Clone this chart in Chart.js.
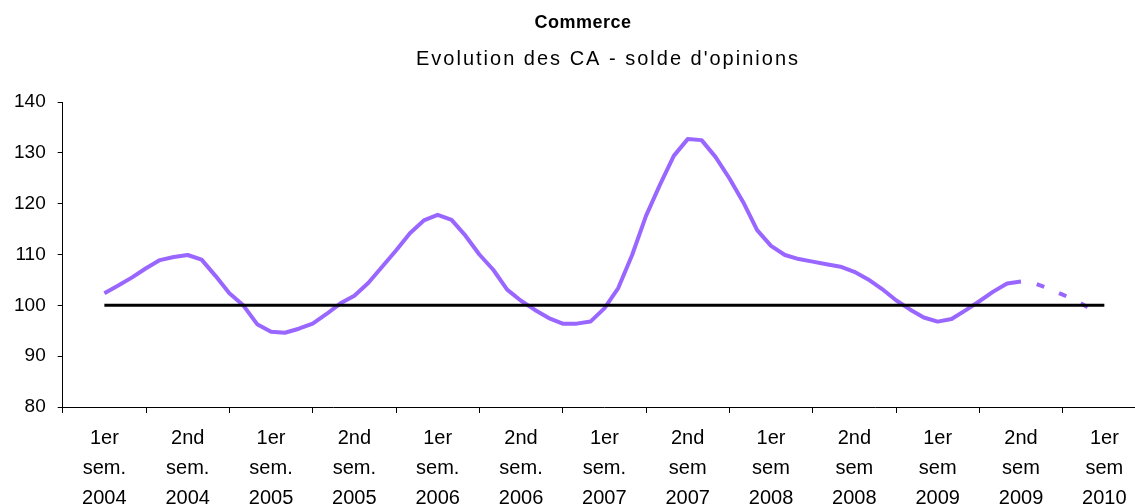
<!DOCTYPE html>
<html>
<head>
<meta charset="utf-8">
<script src="https://cdn.jsdelivr.net/npm/chart.js@4.4.1/dist/chart.umd.min.js"></script>
<style>
  html, body { margin: 0; padding: 0; background: #fff; overflow: hidden; }
  #wrap { width: 1160px; height: 531px; }
</style>
</head>
<body>
<div id="wrap"><canvas id="chart" width="1160" height="531"></canvas></div>
<script>
// semester labels (category axis)
const semesters = [
  ['1er', 'sem.', '2004'], ['2nd', 'sem.', '2004'],
  ['1er', 'sem.', '2005'], ['2nd', 'sem.', '2005'],
  ['1er', 'sem.', '2006'], ['2nd', 'sem.', '2006'],
  ['1er', 'sem.', '2007'], ['2nd', 'sem', '2007'],
  ['1er', 'sem', '2008'], ['2nd', 'sem', '2008'],
  ['1er', 'sem', '2009'], ['2nd', 'sem', '2009'],
  ['1er', 'sem', '2010']
];

// base 100 line, one value per semester
const reference = [100, 100, 100, 100, 100, 100, 100, 100, 100, 100, 100, 100, 100];

// monthly CA balance, month 0 = centre of 1er sem. 2004
const caMonthly = [
  102.4, 103.9, 105.5, 107.3, 108.9, 109.5, 109.9, 109.0, 105.8, 102.4,
  100.0, 96.3, 94.8, 94.6, 95.4, 96.4, 98.3, 100.4, 101.9, 104.4,
  107.6, 110.8, 114.2, 116.7, 117.8, 116.8, 113.7, 110.0, 107.0, 103.1,
  100.9, 99.1, 97.5, 96.4, 96.4, 96.8, 99.4, 103.4, 109.9, 117.6,
  123.7, 129.4, 132.7, 132.5, 129.2, 125.0, 120.3, 114.8, 111.7, 109.9,
  109.1, 108.6, 108.1, 107.6, 106.6, 105.1, 103.2, 101.0, 99.2, 97.6,
  96.8, 97.3, 99.0, 100.8, 102.7, 104.3, 104.7
];

// forecast part (dashed), starting at the last observed month
const caForecast = [104.7, 104.3, 103.3, 102.1, 100.9, 99.3];
const forecastStart = 66;

const yTicks = [80, 90, 100, 110, 120, 130, 140];

const titleText = 'Commerce';
const subtitleText = "Evolution des CA - solde d'opinions";

const FONT = 'Liberation Sans, Arial, sans-serif';
const PURPLE = '#9966ff';

const solidPts = caMonthly.map((v, i) => ({ x: i, y: v }));
const dashPts = caForecast.map((v, i) => ({ x: forecastStart + i, y: v }));

// title + subtitle drawn with letter spacing (not available in the title plugin)
const headerPlugin = {
  id: 'header',
  afterDraw(chart) {
    const ctx = chart.ctx;
    ctx.save();
    ctx.fillStyle = '#000';
    ctx.textAlign = 'center';
    ctx.textBaseline = 'middle';
    ctx.font = 'bold 18px ' + FONT;
    ctx.letterSpacing = '0.5px';
    ctx.fillText(titleText, 583, 23);
    ctx.font = '20px ' + FONT;
    ctx.letterSpacing = '2px';
    ctx.fillText(subtitleText, 608, 59);
    ctx.restore();
  }
};

new Chart(document.getElementById('chart'), {
  type: 'line',
  data: {
    labels: semesters,
    datasets: [
      {
        label: 'CA',
        data: solidPts,
        xAxisID: 'xm',
        borderColor: PURPLE,
        borderWidth: 4,
        pointRadius: 0,
        tension: 0,
        borderJoinStyle: 'round',
        order: 2
      },
      {
        label: 'CA prévision',
        data: dashPts,
        xAxisID: 'xm',
        borderColor: PURPLE,
        borderWidth: 4,
        borderDash: [8, 16],
        borderDashOffset: 8,
        pointRadius: 0,
        tension: 0,
        order: 2
      },
      {
        label: 'Référence',
        data: reference,
        xAxisID: 'x',
        borderColor: '#000',
        borderWidth: 3,
        pointRadius: 0,
        tension: 0,
        order: 1
      }
    ]
  },
  plugins: [headerPlugin],
  options: {
    responsive: false,
    animation: false,
    layout: { padding: { left: 2, right: 14, top: 102, bottom: 8 } },
    plugins: {
      legend: { display: false },
      tooltip: { enabled: false },
      title: { display: false }
    },
    scales: {
      x: {
        type: 'category',
        offset: true,
        grid: { offset: true, drawOnChartArea: false, drawTicks: true, tickLength: 6, color: '#000' },
        border: { display: true, color: '#000', width: 1 },
        ticks: {
          color: '#000',
          maxRotation: 0,
          autoSkip: false,
          padding: 10,
          font: { family: FONT, size: 20, lineHeight: 1.5 }
        }
      },
      xm: {
        type: 'linear',
        display: false,
        min: -3,
        max: 75
      },
      y: {
        min: 80,
        max: 140,
        afterBuildTicks: (s) => { s.ticks = yTicks.map(v => ({ value: v })); },
        grid: { drawOnChartArea: false, drawTicks: true, tickLength: 5, color: '#000' },
        border: { display: true, color: '#000', width: 1 },
        ticks: {
          color: '#000',
          padding: 12,
          font: { family: FONT, size: 19 }
        }
      }
    }
  }
});
</script>
</body>
</html>
